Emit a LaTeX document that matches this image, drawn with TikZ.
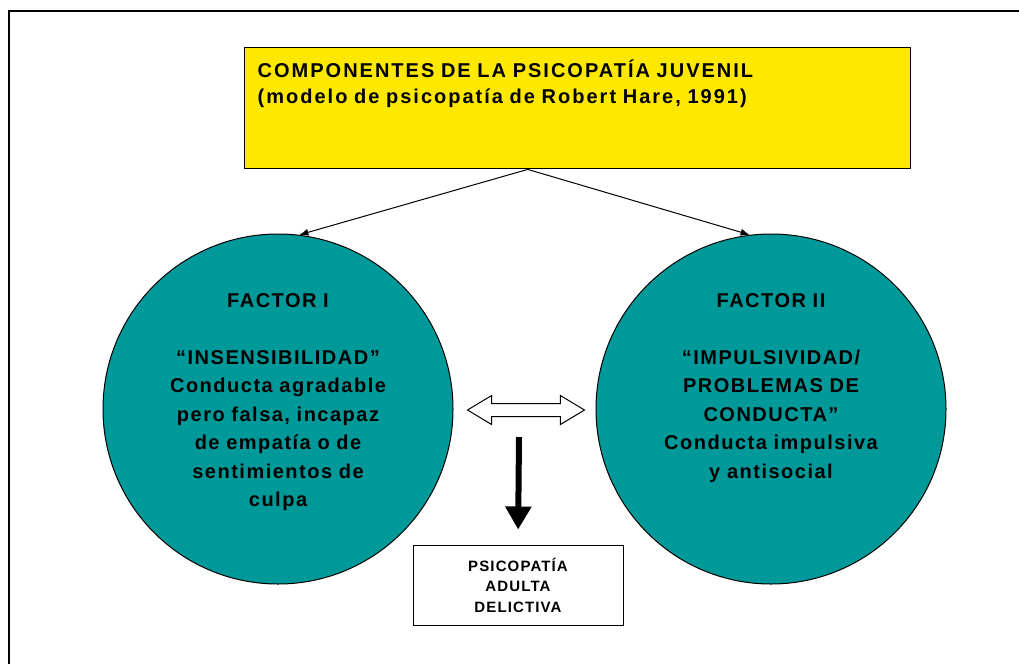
\documentclass[tikz,border=0pt]{standalone}
\usepackage{fontspec}
\setmainfont{Liberation Sans}
\newfontfamily\spacedfont{Liberation Sans}[LetterSpace=7.5]
\newfontfamily\headfont{Liberation Sans}[LetterSpace=10]
\usetikzlibrary{shapes, shapes.arrows, positioning, calc, arrows.meta}
\definecolor{titleyellow}{RGB}{255,232,0}
\definecolor{factorteal}{RGB}{0,153,153}

\begin{document}
\begin{tikzpicture}[x=1pt, y=-1pt,
    headbox/.style={rectangle, 
      draw, 
      line width=1.4pt, 
      fill=titleyellow, 
      anchor=north west, 
      align=left, 
      text width=640pt, 
      inner xsep=13pt, 
      inner ysep=8pt, 
      text height=22pt, 
      text depth=83pt, 
      font=\fontsize{20}{26}\selectfont\headfont\bfseries},
    factor/.style={circle, 
      draw, 
      line width=1pt, 
      fill=factorteal, 
      minimum size=350pt, 
      inner sep=0pt, 
      align=center, 
      text width=240pt, 
      text height=20pt, 
      text depth=224pt, 
      font=\fontsize{20}{28.5}\selectfont\spacedfont\bfseries},
    result/.style={rectangle, 
      draw, 
      line width=1pt, 
      minimum width=210pt, 
      minimum height=80pt, 
      align=center, 
      font=\fontsize{15}{20.5}\selectfont\spacedfont\bfseries}]

  \useasboundingbox (0,0) rectangle (1019,664);
  \draw[line width=1.5pt] (9,664) -- (9,11) -- (1019,11);

% TITLE

  \node [headbox] (headbox) at (244,47) {COMPONENTES DE LA PSICOPATÍA JUVENIL\\
    (modelo de psicopatía de Robert Hare, 1991)};

% FACTORS

  \node [factor] (factorI) at (278,409) {FACTOR I\\[28.5pt]
    “INSENSIBILIDAD”\\
    Conducta agradable\\
    pero falsa, incapaz\\
    de empatía o de\\
    sentimientos de\\
    culpa};

  \node [factor, right=142pt of factorI] (factorII) {FACTOR II\\[28.5pt]
    “IMPULSIVIDAD/\\
    PROBLEMAS DE\\
    CONDUCTA”\\
    Conducta impulsiva\\
    y antisocial};

  \node [double arrow, 
    draw, 
    line width=1pt, 
    fill=white, 
    minimum height=117pt, 
    text height=6pt, 
    text depth=6pt, 
    double arrow head extend=8pt, 
    double arrow tip angle=62, 
    inner sep=0pt] (link) at (526,410) {};

  \node [result] (result) at (518,585) {PSICOPATÍA\\ADULTA\\DELICTIVA};

% ARROWS

  \coordinate (fork) at ($(headbox.south)+(-50,0)$);
  \coordinate (split) at (519,437);

  \draw[line width=1pt, -{Latex[length=9pt, width=7pt]}] (fork) -- (factorI.83);
  \draw[line width=1pt, -{Latex[length=9pt, width=7pt]}] (fork) -- (factorII.97);

  \draw[line width=6pt, -{Triangle[length=23pt, width=25pt]}, shorten >=15pt] 
  (split) -- (result.north);

\end{tikzpicture}
\end{document}
